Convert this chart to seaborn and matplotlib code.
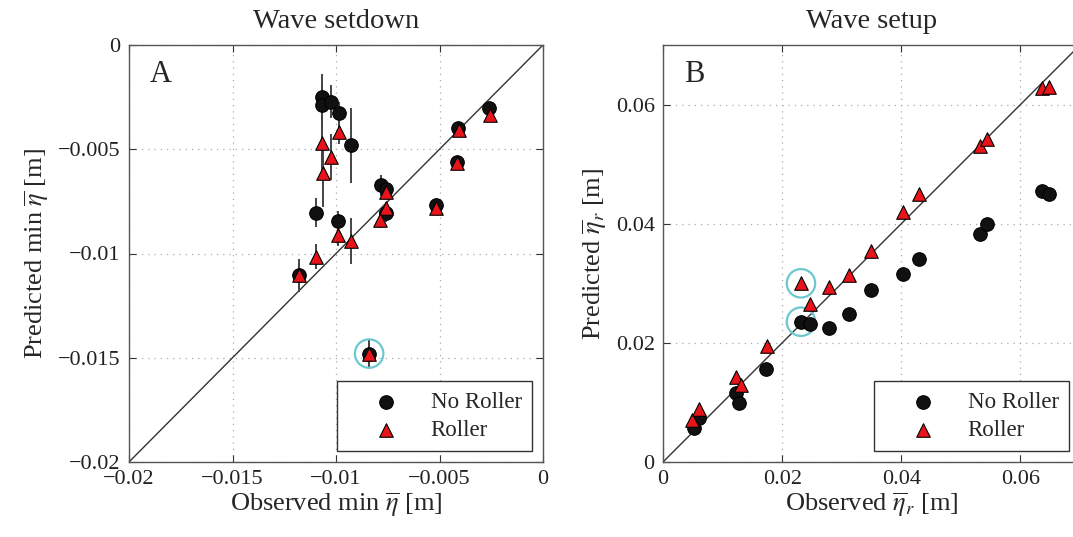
import numpy as np
import pandas as pd
import matplotlib
matplotlib.use("Agg")
import matplotlib.pyplot as plt
import seaborn as sns

# ---------------- data ----------------
# Panel A: wave setdown (observed vs predicted min eta-bar) [m]
a_nr_obs = [-0.01066, -0.01066, -0.01026, -0.00986, -0.00929, -0.00784, -0.00757, -0.00760,
            -0.01098, -0.00990, -0.01179, -0.00840, -0.00515, -0.00411, -0.00414, -0.00261]
a_nr_pred = [-0.00248, -0.00288, -0.00272, -0.00325, -0.00480, -0.00672, -0.00691, -0.00808,
             -0.00805, -0.00845, -0.01104, -0.01480, -0.00768, -0.00400, -0.00563, -0.00301]
a_nr_err = [0.0011, 0.0010, 0.0008, 0.0005, 0.0018, 0.0005, 0.0003, 0.0004,
            0.0007, 0.0005, 0.0008, 0.0007, 0.0002, 0.0002, 0.0002, 0.0002]

a_r_obs = [-0.01066, -0.01026, -0.01063, -0.00986, -0.00757, -0.00760, -0.00789, -0.00990,
           -0.00929, -0.01098, -0.01179, -0.00840, -0.00515, -0.00406, -0.00414, -0.00258]
a_r_pred = [-0.00472, -0.00536, -0.00616, -0.00416, -0.00704, -0.00784, -0.00837, -0.00912,
            -0.00941, -0.01016, -0.01104, -0.01480, -0.00781, -0.00408, -0.00568, -0.00336]
a_r_err = [0.0015, 0.0011, 0.0016, 0.0006, 0.0003, 0.0003, 0.0004, 0.0005,
           0.0011, 0.0006, 0.0006, 0.0006, 0.0002, 0.0002, 0.0002, 0.0002]

a_hl_obs = [-0.00840]
a_hl_pred = [-0.01480]

# Panel B: wave setup (observed vs predicted eta-bar_r) [m]
b_nr_obs = [0.00516, 0.00606, 0.01222, 0.01279, 0.01722, 0.02316, 0.02467, 0.02793,
            0.03118, 0.03488, 0.04021, 0.04301, 0.05327, 0.05439, 0.06365, 0.06477]
b_nr_pred = [0.00572, 0.00740, 0.01161, 0.00993, 0.01553, 0.02355, 0.02310, 0.02243,
             0.02479, 0.02888, 0.03157, 0.03409, 0.03830, 0.03993, 0.04542, 0.04497]

b_r_obs = [0.00493, 0.00606, 0.01222, 0.01301, 0.01738, 0.02316, 0.02467, 0.02793,
           0.03118, 0.03488, 0.04021, 0.04301, 0.05327, 0.05439, 0.06365, 0.06477]
b_r_pred = [0.00701, 0.00897, 0.01419, 0.01290, 0.01946, 0.03000, 0.02647, 0.02944,
            0.03140, 0.03550, 0.04194, 0.04503, 0.05299, 0.05422, 0.06280, 0.06292]

b_hl_obs = [0.02316, 0.02316]
b_hl_pred = [0.03000, 0.02355]

a_ticks = [-0.02, -0.015, -0.01, -0.005, 0]
a_ticklabels = ["\u22120.02", "\u22120.015", "\u22120.01", "\u22120.005", "0"]
b_ticks = [0, 0.02, 0.04, 0.06]
b_ticklabels = ["0", "0.02", "0.04", "0.06"]

# ---------------- style ----------------
sns.set_style("ticks")
plt.rcParams["font.family"] = ["Liberation Serif", "DejaVu Serif"]
plt.rcParams["mathtext.fontset"] = "stix"
plt.rcParams["axes.unicode_minus"] = True

fig = plt.figure(figsize=(10.73, 5.37), dpi=100)
axA = fig.add_axes([129 / 1073, (537 - 462) / 537, 414 / 1073, 417 / 537])
axB = fig.add_axes([663 / 1073, (537 - 462) / 537, 417 / 1073, 417 / 537])

ms = 95
hl_color = "#6cc7cf"


def style_axes(ax, ticks, labels, lim_x, lim_y):
    ax.set_xlim(*lim_x)
    ax.set_ylim(*lim_y)
    ax.set_xticks(ticks)
    ax.set_xticklabels(labels)
    ax.set_yticks(ticks)
    ax.set_yticklabels(labels)
    ax.tick_params(direction="in", top=True, right=True, length=5, width=0.8,
                   labelsize=16, colors="#333333", labelcolor="#222222", pad=6)
    ax.grid(True, linestyle=(0, (1, 4)), color="#aaaaaa", linewidth=0.9)
    ax.set_axisbelow(True)
    for s in ax.spines.values():
        s.set_color("#555555")
        s.set_linewidth(1.0)
        s.set_visible(True)


def add_legend(ax):
    leg = ax.legend(loc="lower right", fontsize=16.5, frameon=True, fancybox=False,
                    edgecolor="#333333", framealpha=1, borderpad=0.45, handletextpad=0.2,
                    labelspacing=0.3, borderaxespad=0.48, markerscale=1.0, handlelength=3.45)
    leg.get_frame().set_linewidth(1.0)


# ---------- Panel A ----------
ax = axA
ax.plot([-0.02, 0], [-0.02, 0], color="#333333", lw=1.0, zorder=2)
ax.errorbar(a_nr_obs, a_nr_pred, yerr=a_nr_err, fmt="none", ecolor="#444444",
            elinewidth=1.4, capsize=0, zorder=3)
ax.errorbar(a_r_obs, a_r_pred, yerr=a_r_err, fmt="none", ecolor="#444444",
            elinewidth=1.4, capsize=0, zorder=3)
sns.scatterplot(x=a_hl_obs, y=a_hl_pred, ax=ax, s=420, marker="o",
                facecolor="none", edgecolor=hl_color, linewidth=1.6, zorder=4)
sns.scatterplot(x=a_nr_obs, y=a_nr_pred, ax=ax, s=ms, marker="o", color="#111111",
                edgecolor="#000000", linewidth=0.8, label="No Roller", zorder=5)
sns.scatterplot(x=a_r_obs, y=a_r_pred, ax=ax, s=ms, marker="^", color="#e8141a",
                edgecolor="#000000", linewidth=0.8, label="Roller", zorder=6)
style_axes(ax, a_ticks, a_ticklabels, (-0.02, 0), (-0.02, 0))
ax.set_xlabel(r"Observed min $\overline{\eta}$ [m]", fontsize=19, labelpad=1)
ax.set_ylabel(r"Predicted min $\overline{\eta}$ [m]", fontsize=19, labelpad=5)
ax.set_title("Wave setdown", fontsize=20.5, pad=12)
ax.text(0.05, 0.93, "A", transform=ax.transAxes, fontsize=22, va="center", ha="left")
add_legend(ax)

# ---------- Panel B ----------
ax = axB
ax.plot([0, 0.07], [0, 0.07], color="#333333", lw=1.0, zorder=2)
sns.scatterplot(x=b_hl_obs, y=b_hl_pred, ax=ax, s=420, marker="o",
                facecolor="none", edgecolor=hl_color, linewidth=1.6, zorder=4)
sns.scatterplot(x=b_nr_obs, y=b_nr_pred, ax=ax, s=ms, marker="o", color="#111111",
                edgecolor="#000000", linewidth=0.8, label="No Roller", zorder=5)
sns.scatterplot(x=b_r_obs, y=b_r_pred, ax=ax, s=ms, marker="^", color="#e8141a",
                edgecolor="#000000", linewidth=0.8, label="Roller", zorder=6)
style_axes(ax, b_ticks, b_ticklabels, (0, 0.07), (0, 0.07))
ax.set_xlabel(r"Observed $\overline{\eta}_r$ [m]", fontsize=19, labelpad=1)
ax.set_ylabel(r"Predicted $\overline{\eta}_r$ [m]", fontsize=19, labelpad=5)
ax.set_title("Wave setup", fontsize=20.5, pad=12)
ax.text(0.05, 0.93, "B", transform=ax.transAxes, fontsize=22, va="center", ha="left")
add_legend(ax)

fig.savefig("out.png", dpi=100)
